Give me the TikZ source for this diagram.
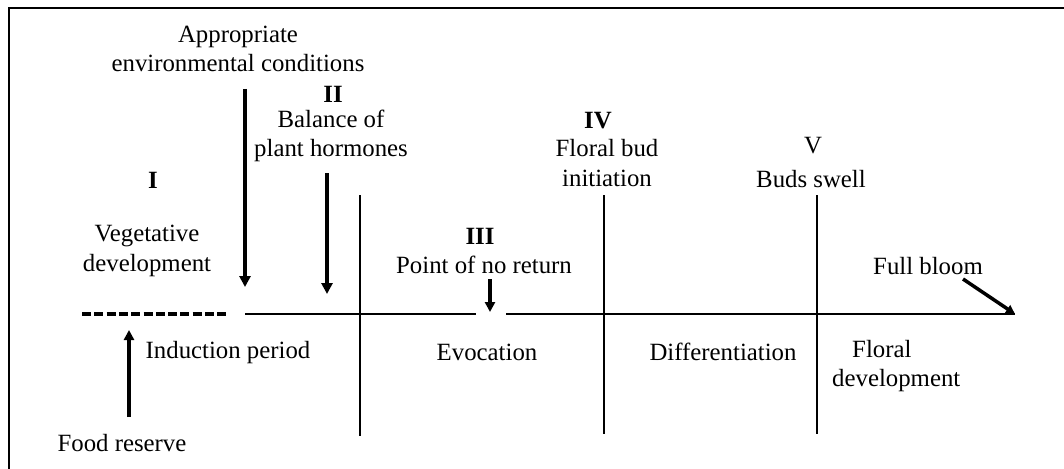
\documentclass[tikz,border=0pt]{standalone}
\usepackage{fontspec}
\setmainfont{Liberation Serif}
\usetikzlibrary{arrows.meta}
\begin{document}
\begin{tikzpicture}[x=1pt,y=-1pt,
  font=\fontsize{24.8}{29.5}\selectfont,
  lbl/.style={inner sep=0pt, align=center},
  num/.style={inner sep=0pt, font=\fontsize{24.8}{29.5}\selectfont\bfseries},
  axis/.style={line width=2.7pt},
  divider/.style={line width=2.7pt},
  bigarrow/.style={line width=4pt, -{Triangle[length=11pt,width=11pt]}},
  smallarrow/.style={line width=3.2pt, -{Triangle[length=10pt,width=10pt]}}]
\useasboundingbox (0,0) rectangle (1064,468);
\clip (0,0) rectangle (1064,468);
\draw[line width=2pt] (9,8) rectangle (1090,490);

% main time line
\coordinate (d0) at (82,314);
\coordinate (d1) at (228,314);
\coordinate (s0) at (245,314);
\coordinate (s1) at (476,314);
\coordinate (s2) at (506,314);
\coordinate (send) at (1015,314);
\draw[line width=4.5pt, dash pattern=on 9pt off 3.3pt] (d0) -- (d1);
\draw[axis] (s0) -- (s1);
\draw[axis] (s2) -- (send);

% dividers
\coordinate (v1t) at (360,195); \coordinate (v1b) at (360,436);
\coordinate (v2t) at (604,195); \coordinate (v2b) at (604,434);
\coordinate (v3t) at (817,195); \coordinate (v3b) at (817,434);
\draw[divider] (v1t) -- (v1b);
\draw[divider] (v2t) -- (v2b);
\draw[divider] (v3t) -- (v3b);

% labels
\node[lbl] (appr) at (238,49) {Appropriate\\environmental conditions};
\node[num] (nII) at (333,94) {II};
\node[lbl] (bal) at (331,136) {Balance of\\plant hormones};
\node[num] (nI) at (153,180) {I};
\node[lbl] (veg) at (147,251) {Vegetative\\development};
\node[num] (nIII) at (480,236) {III};
\node[lbl] (pnr) at (484,265) {Point of no return};
\node[num] (nIV) at (598,121) {IV};
\node[lbl] (fbi) at (607,163) {Floral bud\\initiation};
\node[lbl] (nV) at (813,146) {V};
\node[lbl] (buds) at (811,179) {Buds swell};
\node[lbl] (full) at (928,266) {Full bloom};
\node[lbl] (ind) at (228,353) {Induction period};
\node[lbl] (evo) at (487,352) {Evocation};
\node[lbl] (diff) at (723,352) {Differentiation};
\node[lbl, anchor=west, align=left] (flor) at (832,366) {\hspace{20pt}Floral\\development};
\node[lbl] (food) at (122,443) {Food reserve};

% arrows
\coordinate (a1s) at (245,89);  \coordinate (a1e) at (245,287);
\coordinate (a2s) at (327,173); \coordinate (a2e) at (327,294);
\coordinate (a3s) at (490,279); \coordinate (a3e) at (490,312);
\coordinate (a4s) at (129,417); \coordinate (a4e) at (129,330);
\coordinate (a5s) at (963,279);
\draw[bigarrow] (a1s) -- (a1e);
\draw[bigarrow] (a2s) -- (a2e);
\draw[smallarrow] (a3s) -- (a3e);
\draw[smallarrow] (a4s) -- (a4e);
\draw[line width=3.5pt, -{Triangle[length=9pt,width=9pt]}] (a5s) -- (send);
\end{tikzpicture}
\end{document}
